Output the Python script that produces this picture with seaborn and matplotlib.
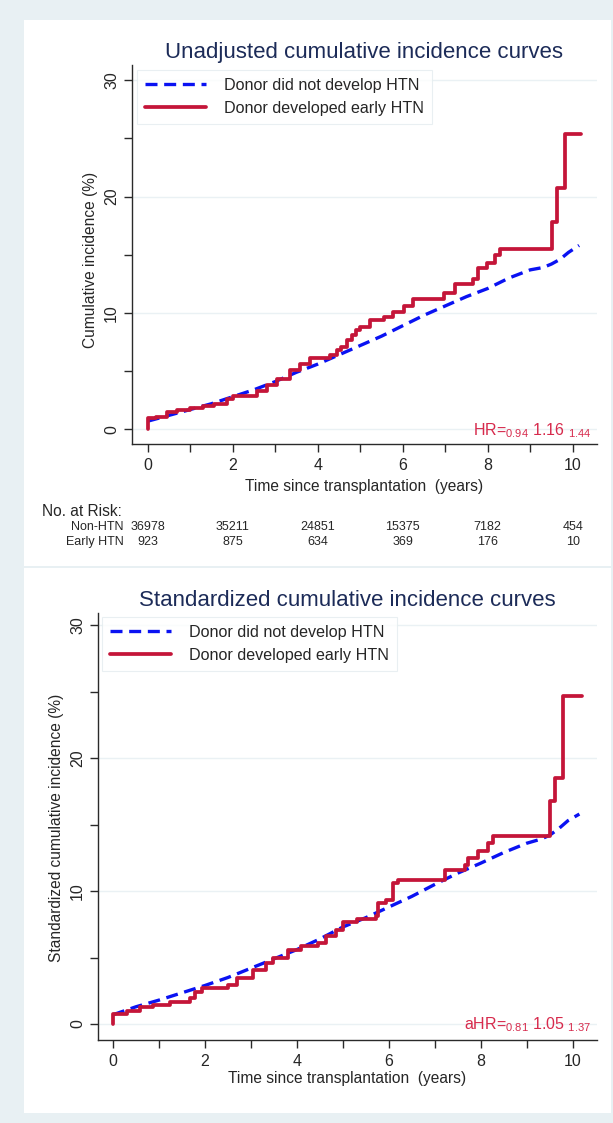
import numpy as np
import pandas as pd
import matplotlib
matplotlib.use('Agg')
import matplotlib.pyplot as plt
import seaborn as sns
from matplotlib.patches import Rectangle
from matplotlib import transforms

# Unadjusted curves
red_t_u = [0, 0, 0.2, 0.45, 0.7, 1.0, 1.3, 1.55, 1.86, 2.0, 2.56, 2.8, 3.04, 3.35, 3.58, 3.82,
           4.29, 4.45, 4.55, 4.68, 4.8, 4.9, 5.0, 5.23, 5.55, 5.78, 6.02, 6.25, 6.96, 7.23, 7.66,
           7.78, 7.98, 8.17, 8.29, 9.52, 9.64, 9.82, 10.19]
red_v_u = [0, 0.97, 1.1, 1.5, 1.65, 1.83, 2.0, 2.15, 2.6, 2.9, 3.3, 3.8, 4.35, 5.1, 5.6, 6.1,
           6.4, 6.8, 7.1, 7.65, 8.1, 8.5, 8.8, 9.4, 9.65, 10.1, 10.6, 11.2, 11.7, 12.5, 12.95,
           13.9, 14.3, 14.95, 15.5, 17.8, 20.7, 25.4, 25.4]
blue_t_u = [0, 0.5, 1, 1.5, 2, 2.5, 3, 3.5, 4, 4.5, 5, 5.5, 6, 6.5, 7, 7.5, 8, 8.5, 9,
            9.3, 9.5, 9.7, 9.9, 10.15]
blue_v_u = [0.7, 1.2, 1.7, 2.2, 2.8, 3.4, 4.1, 4.9, 5.6, 6.4, 7.2, 8.0, 8.9, 9.8, 10.6, 11.4,
            12.1, 13.0, 13.7, 13.9, 14.2, 14.6, 15.2, 15.8]

# Standardized curves
red_t_s = [0, 0, 0.3, 0.59, 0.88, 1.24, 1.67, 1.78, 1.93, 2.51, 2.69, 3.05, 3.34, 3.49, 3.81,
           4.1, 4.46, 4.64, 4.86, 5.0, 5.3, 5.73, 5.77, 5.95, 6.09, 6.2, 7.22, 7.65, 7.72, 7.94,
           8.16, 8.27, 9.5, 9.61, 9.79, 10.2]
red_v_s = [0, 0.75, 1.0, 1.25, 1.43, 1.63, 1.93, 2.43, 2.75, 2.95, 3.5, 4.1, 4.6, 5.0, 5.6,
           5.84, 6.1, 6.6, 7.1, 7.7, 7.9, 8.15, 9.1, 9.35, 10.6, 10.85, 11.6, 11.95, 12.5, 13.0,
           13.6, 14.15, 16.8, 18.5, 24.7, 24.7]
blue_t_s = [0, 0.5, 1, 1.5, 2, 2.5, 3, 3.5, 4, 4.5, 5, 5.5, 6, 6.5, 7, 7.5, 8, 8.5, 9,
            9.3, 9.5, 9.7, 9.9, 10.15]
blue_v_s = [0.7, 1.3, 1.8, 2.35, 2.9, 3.5, 4.2, 4.9, 5.6, 6.4, 7.3, 8.0, 8.8, 9.6, 10.5, 11.35,
            12.1, 12.9, 13.6, 13.9, 14.2, 14.7, 15.3, 15.8]

# Numbers at risk
risk_times = [0, 2, 4, 6, 8, 10]
risk_non_htn = [36978, 35211, 24851, 15375, 7182, 454]
risk_early_htn = [923, 875, 634, 369, 176, 10]

labels = ['Donor did not develop HTN', 'Donor developed early HTN']

sns.set_theme(style='white')
plt.rcParams['font.family'] = ['Liberation Sans', 'DejaVu Sans']
plt.rcParams['mathtext.fontset'] = 'custom'
plt.rcParams['mathtext.rm'] = 'Liberation Sans'
plt.rcParams['mathtext.it'] = 'Liberation Sans'

W, H = 613, 1123
RED = '#C41539'
BLUE = '#0A12F2'
HRCOL = '#D72A4C'
NAVY = '#1C2B58'
BG = '#E8F0F3'


def fx(px):
    return px / W


def fy(py):
    return 1 - py / H


fig = plt.figure(figsize=(W / 100, H / 100), dpi=100, facecolor=BG)
fig.patches.append(Rectangle((fx(23.5), fy(566)), fx(611) - fx(23.5), fy(20) - fy(566),
                             transform=fig.transFigure, facecolor='white', edgecolor='none', zorder=-5))
fig.patches.append(Rectangle((fx(23.5), fy(1113)), fx(611) - fx(23.5), fy(567.5) - fy(1113),
                             transform=fig.transFigure, facecolor='white', edgecolor='none', zorder=-5))


def make_panel(box, x0px, scale_x, ylim, title, red_t, red_v, blue_t, blue_v, leg_anchor):
    left, top, right, bottom = box
    ax = fig.add_axes([fx(left), fy(bottom), fx(right) - fx(left), fy(top) - fy(bottom)])
    ax.set_facecolor('none')
    xl = -(x0px - left) / scale_x
    xr = (right - x0px) / scale_x
    ax.set_xlim(xl, xr)
    ax.set_ylim(*ylim)
    for g in [0, 10, 20, 30]:
        ax.axhline(g, color='#EAF1F4', lw=1.0, zorder=0)
    sns.lineplot(x=blue_t, y=blue_v, ax=ax, color=BLUE, lw=2.4, estimator=None, sort=False,
                 linestyle=(0, (3.6, 2.0)), label=labels[0])
    sns.lineplot(x=red_t, y=red_v, ax=ax, color=RED, lw=2.7, estimator=None, sort=False,
                 drawstyle='steps-post', label=labels[1])
    for s in ['top', 'right']:
        ax.spines[s].set_visible(False)
    for s in ['left', 'bottom']:
        ax.spines[s].set_color('#2a2a2a')
        ax.spines[s].set_linewidth(1.0)
    ax.set_xticks(range(0, 11))
    ax.set_xticklabels([str(i) if i % 2 == 0 else '' for i in range(0, 11)], fontsize=11.5)
    ax.set_yticks([0, 10, 20, 30])
    ax.set_yticklabels(['0', '10', '20', '30'], fontsize=11.5, rotation=90, va='center')
    ax.set_yticks([5, 15, 25], minor=True)
    ax.tick_params(axis='both', which='both', direction='out', length=6, width=1,
                   color='#2a2a2a', bottom=True, left=True)
    ax.tick_params(axis='x', pad=4)
    ax.tick_params(axis='y', pad=3)
    ax.set_xlabel('')
    ax.set_ylabel('')
    ax.set_title(title, fontsize=16, color=NAVY, pad=5)
    leg = ax.legend(loc='upper left', bbox_to_anchor=leg_anchor, fontsize=11.6, handlelength=3.8,
                    labelspacing=0.5, borderpad=0.5, frameon=True, fancybox=False,
                    borderaxespad=0, handletextpad=1.1)
    leg.get_frame().set_edgecolor('#E4ECEF')
    leg.get_frame().set_linewidth(0.8)
    return ax


ax1 = make_panel((131.5, 65, 597, 444), 147.7, 42.5, (-1.26, 31.3),
                 'Unadjusted cumulative incidence curves',
                 red_t_u, red_v_u, blue_t_u, blue_v_u, (0.012, 0.987))
ax2 = make_panel((97.6, 612.7, 597, 1040), 113.0, 45.95, (-1.2, 30.95),
                 'Standardized cumulative incidence curves',
                 red_t_s, red_v_s, blue_t_s, blue_v_s, (0.009, 0.99))

# axis titles
fig.text(fx(364), fy(487), 'Time since transplantation  (years)', fontsize=11.2, ha='center', va='center')
fig.text(fx(347), fy(1079), 'Time since transplantation  (years)', fontsize=11.2, ha='center', va='center')
fig.text(fx(90), fy(260), 'Cumulative incidence (%)', fontsize=11.2, rotation=90, ha='center', va='center')
fig.text(fx(57), fy(828), 'Standardized cumulative incidence (%)', fontsize=11.2, rotation=90,
         ha='center', va='center')

# hazard ratios
fig.text(fx(591), fy(431), r'HR=$_{0.94}$ 1.16 $_{1.44}$', fontsize=11.5, color=HRCOL, ha='right', va='center')
fig.text(fx(591), fy(1025), r'aHR=$_{0.81}$ 1.05 $_{1.37}$', fontsize=11.5, color=HRCOL, ha='right', va='center')

# numbers at risk table
tr = transforms.blended_transform_factory(ax1.transData, fig.transFigure)
fig.text(fx(42), fy(511), 'No. at Risk:', fontsize=11.2, ha='left', va='center')
fig.text(fx(124), fy(527), 'Non-HTN', fontsize=9, ha='right', va='center')
fig.text(fx(124), fy(542), 'Early HTN', fontsize=9, ha='right', va='center')
for t, a, b in zip(risk_times, risk_non_htn, risk_early_htn):
    ax1.text(t, fy(527), str(a), transform=tr, fontsize=9, ha='center', va='center')
    ax1.text(t, fy(542), str(b), transform=tr, fontsize=9, ha='center', va='center')

fig.savefig('out.png', dpi=100, facecolor=BG)
